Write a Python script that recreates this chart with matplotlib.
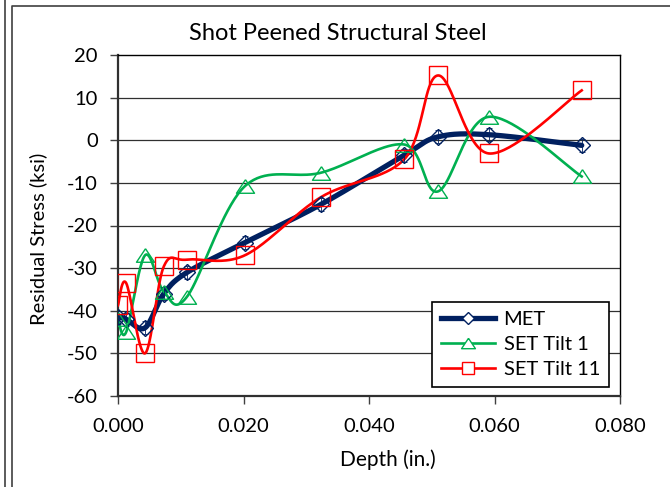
import numpy as np
import matplotlib
matplotlib.use("Agg")
import matplotlib.pyplot as plt
from matplotlib.lines import Line2D

plt.rcParams['font.family'] = ['Lato', 'DejaVu Sans']

# data
depth = [0.0, 0.0013, 0.0043, 0.0073, 0.011, 0.0202, 0.0324, 0.0456, 0.0510, 0.0591, 0.0739]
met = [-41.5, -42.0, -44.0, -36.0, -31.0, -24.0, -15.0, -3.5, 0.8, 1.3, -1.2]
met_err = [1.5, 1.5, 1.5, 1.5, 1.5, 1.5, 1.5, 1.5, 1.5, 1.5, 1.5]
set_tilt1 = [-42.0, -45.0, -27.0, -35.5, -36.7, -10.8, -7.6, -1.0, -12.0, 5.5, -8.5]
set_tilt11 = [-38.7, -33.5, -50.0, -29.6, -28.0, -27.0, -13.3, -4.5, 15.2, -3.1, 11.7]

names = ['MET', 'SET Tilt 1', 'SET Tilt 11']
yticks = [20, 10, 0, -10, -20, -30, -40, -50, -60]
xticks = [0.0, 0.02, 0.04, 0.06, 0.08]

NAVY = '#002060'
GREEN = '#00B050'
RED = '#FF0000'

W, H = 670, 487


def smooth(x, y, n=40):
    # excel-like smoothed line: catmull-rom as cubic bezier
    p = np.column_stack([x, y]).astype(float)
    pts = [p[0]]
    for i in range(len(p) - 1):
        p0 = p[i - 1] if i > 0 else p[i]
        p1, p2 = p[i], p[i + 1]
        p3 = p[i + 2] if i + 2 < len(p) else p[i + 1]
        c1 = p1 + (p2 - p0) / 6.0
        c2 = p2 - (p3 - p1) / 6.0
        t = np.linspace(0, 1, n)[1:, None]
        seg = ((1 - t) ** 3) * p1 + 3 * ((1 - t) ** 2) * t * c1 \
            + 3 * (1 - t) * t ** 2 * c2 + t ** 3 * p2
        pts.extend(seg)
    pts = np.array(pts)
    return pts[:, 0], pts[:, 1]


tri = [(0, 0.75), (-1, -0.75), (1, -0.75), (0, 0.75)]

fig = plt.figure(figsize=(W / 100, H / 100), dpi=100)
ax = fig.add_axes([118 / W, 1 - 396 / H, 502 / W, 341 / H])

for yv in yticks[1:-1]:
    ax.axhline(yv, color='#303030', lw=0.9, zorder=1)

# MET
sx, sy = smooth(depth, met)
ax.plot(sx, sy, color=NAVY, lw=3.8, solid_capstyle='round', zorder=3)
ax.errorbar(depth, met, yerr=met_err, fmt='none', ecolor=NAVY, elinewidth=0.6,
            capsize=2.5, capthick=0.6, zorder=4)
ax.plot(depth, met, ls='none', marker='D', ms=8, mfc='none', mec=NAVY, mew=1.0, zorder=4)

# SET Tilt 1
sx, sy = smooth(depth, set_tilt1)
ax.plot(sx, sy, color=GREEN, lw=1.9, zorder=3)
ax.plot(depth, set_tilt1, ls='none', marker=tri, ms=13, mfc='none', mec=GREEN, mew=1.0, zorder=4)

# SET Tilt 11
sx, sy = smooth(depth, set_tilt11)
ax.plot(sx, sy, color=RED, lw=1.9, zorder=3)
ax.plot(depth, set_tilt11, ls='none', marker='s', ms=12.5, mfc='none', mec=RED, mew=1.0, zorder=4)

ax.set_xlim(0, 0.08)
ax.set_ylim(-60, 20)
ax.set_xticks(xticks)
ax.set_xticklabels(['%.3f' % v for v in xticks])
ax.set_yticks(yticks)
ax.set_yticklabels([str(v) for v in yticks])
ax.tick_params(axis='both', direction='out', length=5.5, width=1, color='#404040',
               labelsize=14.5, colors='black')
ax.tick_params(axis='x', pad=10)
ax.tick_params(axis='y', pad=9)
for s in ['top', 'right']:
    ax.spines[s].set_color('black')
    ax.spines[s].set_linewidth(1.0)
for s in ['left', 'bottom']:
    ax.spines[s].set_color('#303030')
    ax.spines[s].set_linewidth(1.6)

handles = [
    Line2D([], [], color=NAVY, lw=3.8, marker='D', ms=6, mfc='white', mec=NAVY, mew=1.0),
    Line2D([], [], color=GREEN, lw=1.9, marker=tri, ms=10, mfc='white', mec=GREEN, mew=1.0),
    Line2D([], [], color=RED, lw=1.9, marker='s', ms=8, mfc='white', mec=RED, mew=1.0),
]
leg = ax.legend(handles, names, loc='lower right', bbox_to_anchor=(0.978, 0.026),
                borderaxespad=0, fontsize=14.5, frameon=True, fancybox=False,
                edgecolor='black', handlelength=2.7, handletextpad=0.4,
                labelspacing=0.4, borderpad=0.45)
leg.get_frame().set_linewidth(1.2)
leg.get_frame().set_alpha(1)
leg.set_zorder(10)

fig.text(338 / W, 1 - 33 / H, 'Shot Peened Structural Steel', ha='center', va='center', fontsize=17)
fig.text(388 / W, 1 - 460 / H, 'Depth (in.)', ha='center', va='center', fontsize=15)
fig.text(38 / W, 1 - 239 / H, 'Residual Stress (ksi)', ha='center', va='center',
         rotation=90, fontsize=14.5)

# chart frame lines
fig.add_artist(Line2D([5 / W, 5 / W], [0, 1], transform=fig.transFigure, color='#404040', lw=1.2))
fig.add_artist(Line2D([12 / W, 12 / W, 1], [0, 1 - 6 / H, 1 - 6 / H], transform=fig.transFigure,
                      color='#404040', lw=1.2))

fig.savefig('out.png', dpi=100)
